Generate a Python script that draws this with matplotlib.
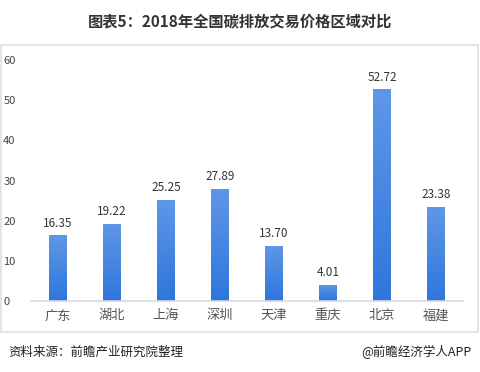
import matplotlib
matplotlib.use("Agg")
import matplotlib.pyplot as plt
import numpy as np
from matplotlib.patches import Rectangle
from matplotlib.colors import LinearSegmentedColormap

plt.rcParams['font.family'] = ['Noto Sans CJK SC', 'DejaVu Sans']

categories = ["广东", "湖北", "上海", "深圳", "天津", "重庆", "北京", "福建"]
values = [16.35, 19.22, 25.25, 27.89, 13.70, 4.01, 52.72, 23.38]
yticks = [0, 10, 20, 30, 40, 50, 60]
title = "图表5：2018年全国碳排放交易价格区域对比"
source = "资料来源：前瞻产业研究院整理"
brand = "@前瞻经济学人APP"

W, H = 480, 372
fig = plt.figure(figsize=(W/100, H/100), dpi=100)
fig.patch.set_facecolor("white")

# panel border
fig.patches.append(Rectangle((1/W, (H-332)/H), 477/W, 287/H, transform=fig.transFigure,
                             fill=False, edgecolor="#dcdfe4", linewidth=1.2))

ax = fig.add_axes([31/W, 71/H, 432/W, 241/H])
x = np.arange(len(categories))
bars = ax.bar(x, values, width=0.32, color="none", zorder=3)
grad = np.linspace(0, 1, 256).reshape(-1, 1)
cmap = LinearSegmentedColormap.from_list("g", ["#2f76dc", "#5f97e8"])
for b in bars:
    x0, y0 = b.get_x(), b.get_y()
    w, h = b.get_width(), b.get_height()
    im = ax.imshow(grad, extent=[x0, x0 + w, y0, y0 + h], origin="lower",
                   cmap=cmap, aspect="auto", zorder=2)
    im.set_clip_path(b)
    ax.text(x0 + w/2, h + 1.4, f"{h:.2f}", ha="center", va="bottom",
            fontsize=8.5, color="#333333")

ax.set_xlim(-0.5, len(categories) - 0.5)
ax.set_ylim(0, 60)
ax.set_yticks(yticks)
ax.set_yticklabels([str(t) for t in yticks], fontsize=8, color="#444444")
ax.set_xticks(x)
ax.set_xticklabels(categories, fontsize=9.5, color="#555555")
for s in ["top", "right", "left"]:
    ax.spines[s].set_visible(False)
ax.spines["bottom"].set_color("#d5d9e0")
ax.spines["bottom"].set_linewidth(1.2)
ax.tick_params(axis="both", length=0)
ax.tick_params(axis="x", pad=6)
for lbl in ax.get_yticklabels():
    lbl.set_horizontalalignment("left")
ax.yaxis.set_tick_params(pad=20)

fig.text(0.5, (H-22)/H, title, ha="center", va="center", fontsize=11,
         fontweight="bold", color="#333333")
fig.text(8/W, (H-352)/H, source, ha="left", va="center", fontsize=9,
         style="italic", color="#222222")
fig.text(472/W, (H-352)/H, brand, ha="right", va="center", fontsize=9,
         color="#222222")

fig.savefig("out.png", dpi=100, facecolor="white")
